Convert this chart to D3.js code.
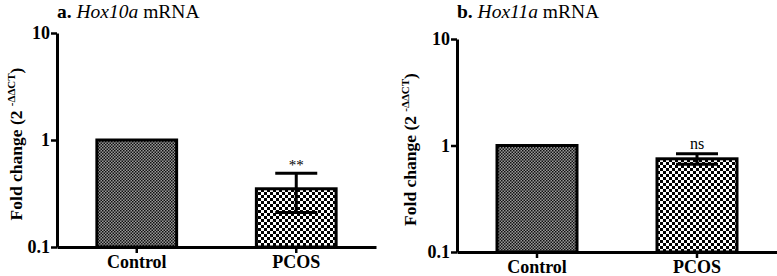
<!DOCTYPE html>
<html>
<head>
<meta charset="utf-8">
<script src="https://cdn.jsdelivr.net/npm/d3@7"></script>
<style>
  body { margin: 0; background: #fff; }
  text { font-family: "Liberation Serif", "Times New Roman", serif; }
</style>
</head>
<body>
<div id="chart"></div>
<script>
// data
var groups = ["Control", "PCOS"];
var hox10aMean = [1, 0.35];
var hox10aErr = [0, 0.14];
var hox10aMark = ["", "**"];
var hox11aMean = [1, 0.75];
var hox11aErr = [0, 0.085];
var hox11aMark = ["", "ns"];
var yTicks = [0.1, 1, 10];
var yTickLabels = ["0.1", "1", "10"];

var svg = d3.select("#chart")
  .append("svg")
  .attr("width", 777)
  .attr("height", 276);

// fill patterns
var defs = svg.append("defs");
var fine = defs.append("pattern")
  .attr("id", "fine")
  .attr("width", 3).attr("height", 3)
  .attr("patternUnits", "userSpaceOnUse");
fine.append("rect").attr("width", 3).attr("height", 3).attr("fill", "#999");
fine.append("rect").attr("width", 1.5).attr("height", 1.5).attr("fill", "#111");
fine.append("rect").attr("x", 1.5).attr("y", 1.5).attr("width", 1.5).attr("height", 1.5).attr("fill", "#111");

var coarse = defs.append("pattern")
  .attr("id", "coarse")
  .attr("width", 6).attr("height", 6)
  .attr("patternUnits", "userSpaceOnUse");
coarse.append("rect").attr("width", 6).attr("height", 6).attr("fill", "#fff");
coarse.append("rect").attr("width", 3).attr("height", 3).attr("fill", "#000");
coarse.append("rect").attr("x", 3).attr("y", 3).attr("width", 3).attr("height", 3).attr("fill", "#000");

var fills = ["url(#fine)", "url(#coarse)"];

function drawPanel(opt) {
  var g = svg.append("g");

  var x = d3.scaleBand()
    .domain(groups)
    .range([opt.left, opt.right])
    .paddingInner(0.5)
    .paddingOuter(0.25);

  var y = d3.scaleLog()
    .domain([0.1, 10])
    .range([opt.bottom, opt.top]);

  // title
  var t = g.append("text")
    .attr("x", opt.titleX)
    .attr("y", 18)
    .attr("font-size", 19.5);
  t.append("tspan").attr("font-weight", "bold").text(opt.letter + " ");
  t.append("tspan").attr("font-style", "italic").text(opt.gene);
  t.append("tspan").text(" mRNA");

  // y label
  var yl = g.append("text")
    .attr("transform", "translate(" + (opt.left - opt.labelGap) + "," + ((opt.top + opt.bottom) / 2 + 4) + ") rotate(-90)")
    .attr("text-anchor", "middle")
    .attr("font-size", 17.5)
    .attr("font-weight", "bold");
  yl.append("tspan").text("Fold change (2 ");
  yl.append("tspan").attr("font-size", 11).attr("dy", -7).text("-\u0394\u0394CT");
  yl.append("tspan").attr("dy", 7).text(")");

  // bars
  g.selectAll(".bar")
    .data(groups)
    .enter()
    .append("rect")
    .attr("x", function(d) { return x(d); })
    .attr("y", function(d, i) { return y(opt.mean[i]); })
    .attr("width", x.bandwidth())
    .attr("height", function(d, i) { return y(0.1) - y(opt.mean[i]); })
    .attr("fill", function(d, i) { return fills[i]; })
    .attr("stroke", "#000")
    .attr("stroke-width", 3);

  // error bars
  var cap = 21;
  groups.forEach(function(d, i) {
    if (!opt.err[i]) return;
    var cx = x(d) + x.bandwidth() / 2;
    var hi = y(opt.mean[i] + opt.err[i]);
    var lo = y(opt.mean[i] - opt.err[i]);
    g.append("line")
      .attr("x1", cx).attr("x2", cx)
      .attr("y1", hi).attr("y2", lo)
      .attr("stroke", "#000").attr("stroke-width", 3);
    g.selectAll(null)
      .data([hi, lo])
      .enter()
      .append("line")
      .attr("x1", cx - cap).attr("x2", cx + cap)
      .attr("y1", function(v) { return v; })
      .attr("y2", function(v) { return v; })
      .attr("stroke", "#000").attr("stroke-width", 3);
    g.append("text")
      .attr("x", cx)
      .attr("y", hi - opt.markGap)
      .attr("text-anchor", "middle")
      .attr("font-size", opt.mark[i] === "ns" ? 16 : 15)
      .text(opt.mark[i]);
  });

  // y axis
  var ya = g.append("g")
    .attr("transform", "translate(" + opt.left + ",0)")
    .call(d3.axisLeft(y).tickValues(yTicks)
      .tickFormat(function(d, i) { return yTickLabels[i]; })
      .tickSize(6).tickSizeOuter(0));
  ya.select(".domain").attr("stroke-width", 3);
  ya.selectAll(".tick line").attr("stroke-width", 2.5);
  ya.selectAll(".tick text")
    .attr("font-family", "Liberation Serif, serif")
    .attr("font-size", 18)
    .attr("font-weight", "bold")
    .attr("fill", "#000")
    .attr("x", -7);

  // x axis
  var xa = g.append("g")
    .attr("transform", "translate(0," + opt.bottom + ")")
    .call(d3.axisBottom(x).tickSize(6).tickSizeOuter(0));
  xa.select(".domain").attr("stroke-width", 3);
  xa.selectAll(".tick line").attr("stroke-width", 2.5);
  xa.selectAll(".tick text")
    .attr("font-family", "Liberation Serif, serif")
    .attr("font-size", 18)
    .attr("font-weight", "bold")
    .attr("fill", "#000")
    .attr("y", 8);
}

drawPanel({
  letter: "a.", gene: "Hox10a", titleX: 57, labelGap: 35,
  left: 57, right: 376, top: 33, bottom: 247,
  mean: hox10aMean, err: hox10aErr, mark: hox10aMark, markGap: 3
});

drawPanel({
  letter: "b.", gene: "Hox11a", titleX: 457, labelGap: 41,
  left: 457, right: 777, top: 39, bottom: 252,
  mean: hox11aMean, err: hox11aErr, mark: hox11aMark, markGap: 5
});
</script>
</body>
</html>
